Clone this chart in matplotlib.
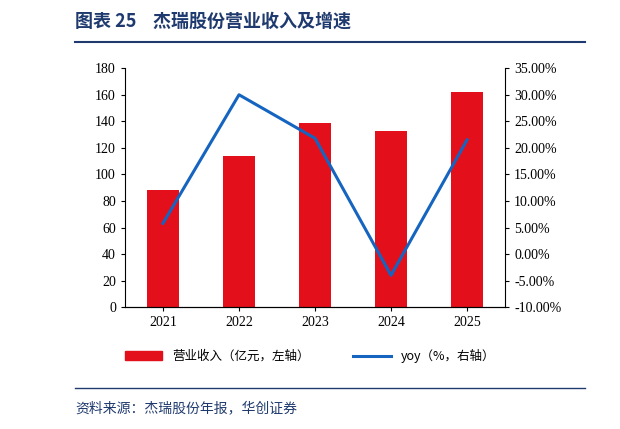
import matplotlib.pyplot as plt
from matplotlib.lines import Line2D
from matplotlib.patches import Patch
from matplotlib.ticker import FuncFormatter

plt.rcParams['font.family'] = ['Liberation Serif', 'Noto Sans CJK SC']

years = ["2021", "2022", "2023", "2024", "2025"]
revenue = [88, 114, 139, 133, 162]
yoy = [5.8, 30.0, 21.8, -4.0, 21.5]

navy = "#1F3A6E"
red = "#E3101C"
blue = "#1565C0"

fig = plt.figure(figsize=(6.2, 4.29), dpi=100)
ax = fig.add_axes([0.2016, 0.284, 0.613, 0.557])
x = range(len(years))
ax.bar(x, revenue, width=0.42, color=red)
ax.set_ylim(0, 180)
ax.set_yticks(range(0, 181, 20))
ax.set_xlim(-0.5, 4.5)
ax.set_xticks(list(x))
ax.set_xticklabels(years)
for s in ["top", "right"]:
    ax.spines[s].set_visible(False)
ax.tick_params(labelsize=10, length=3)

ax2 = ax.twinx()
ax2.plot(x, yoy, color=blue, lw=2.2)
ax2.set_ylim(-10, 35)
ax2.set_yticks(range(-10, 36, 5))
ax2.yaxis.set_major_formatter(FuncFormatter(lambda v, p: f"{v:.2f}%"))
for s in ["top", "left"]:
    ax2.spines[s].set_visible(False)
ax2.tick_params(labelsize=10, length=3)

handles = [Patch(color=red), Line2D([], [], color=blue, lw=2.2)]
fig.legend(handles, ["营业收入（亿元，左轴）", "yoy（%，右轴）"],
           loc="center", bbox_to_anchor=(0.5, 0.17), ncol=2, frameon=False,
           prop={'family': ['Noto Sans CJK SC'], 'size': 9}, columnspacing=3.5,
           handlelength=3)

fig.text(0.121, 0.95, "图表 25    杰瑞股份营业收入及增速", color=navy,
         fontsize=13, fontweight="bold", family=['Noto Sans CJK SC'], va="center")
fig.add_artist(Line2D([0.121, 0.944], [0.902, 0.902], color=navy, lw=1.5))
fig.add_artist(Line2D([0.121, 0.944], [0.096, 0.096], color=navy, lw=1))
fig.text(0.121, 0.048, "资料来源：杰瑞股份年报，华创证券", color=navy, fontsize=10,
         style="italic", family=['Noto Sans CJK SC'], va="center")

fig.savefig("out.png", dpi=100)
